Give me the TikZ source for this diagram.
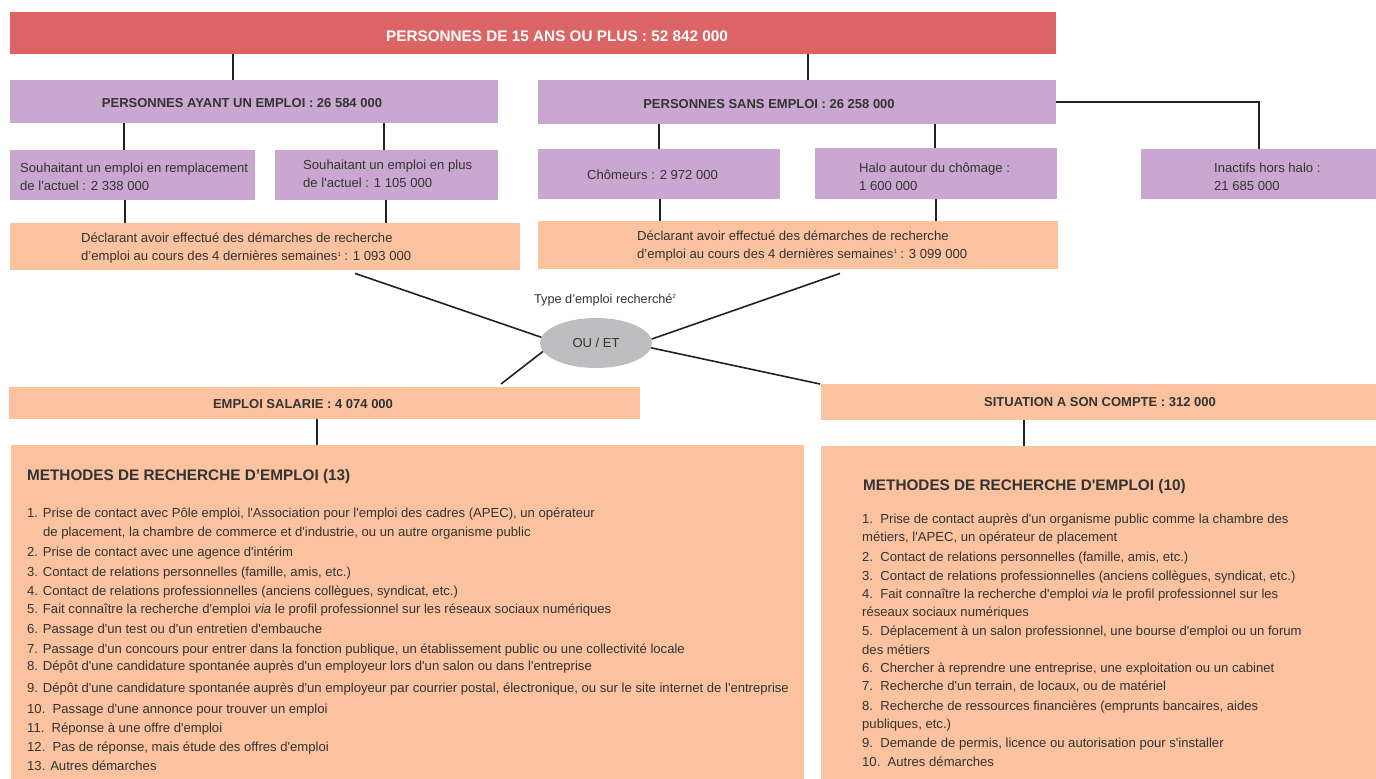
\documentclass[tikz,border=0pt]{standalone}
\usepackage{fontspec}
\setmainfont{Liberation Sans}[Ligatures=TeXOff]
\usetikzlibrary{shapes.geometric,calc}
\definecolor{cred}{HTML}{DC6464}
\definecolor{cpur}{HTML}{CAA7D0}
\definecolor{corg}{HTML}{FBC2A0}
\definecolor{cgry}{HTML}{BEBEC0}
\definecolor{ctxt}{HTML}{333333}
\definecolor{cline}{HTML}{222222}
\newcommand\supnum[1]{\raisebox{4.5pt}{\fontsize{6}{6}\selectfont #1}}
\begin{document}
\begin{tikzpicture}[x=1pt,y=-1pt,
  panel/.style={rectangle,inner sep=0,anchor=north west,draw=none},
  txt/.style={inner sep=0,text=ctxt,font=\fontsize{13.1}{18}\selectfont,align=left},
  boldtxt/.style={inner sep=0,text=ctxt,font=\fontsize{13}{16}\selectfont\bfseries},
  headtxt/.style={inner sep=0,text=ctxt,font=\fontsize{15.3}{18}\selectfont\bfseries},
  conn/.style={draw=cline,line width=1.6pt},
  item/.style={inner sep=0,text=ctxt,font=\fontsize{13.1}{16}\selectfont,anchor=west,text height=9.5pt,text depth=2.5pt}]
\useasboundingbox (0,0) rectangle (1376,779);
\fill[white] (0,0) rectangle (1376,779);

% boxes
\node[panel,fill=cred,minimum width=1046,minimum height=42] (red) at (10,12) {};
\node[panel,fill=cpur,minimum width=488,minimum height=43] (A) at (10,80) {};
\node[panel,fill=cpur,minimum width=518,minimum height=44] (B) at (538,80) {};
\node[panel,fill=cpur,minimum width=245,minimum height=50] (C1) at (10,150) {};
\node[panel,fill=cpur,minimum width=223,minimum height=50] (C2) at (275,150) {};
\node[panel,fill=corg,minimum width=510,minimum height=47] (D1) at (10,223) {};
\node[panel,fill=cpur,minimum width=242,minimum height=50] (Cho) at (538,149) {};
\node[panel,fill=cpur,minimum width=242,minimum height=51] (Halo) at (815,148) {};
\node[panel,fill=cpur,minimum width=235,minimum height=50] (Inact) at (1141,149) {};
\node[panel,fill=corg,minimum width=520,minimum height=48] (D2) at (538,221) {};
\node[panel,fill=corg,minimum width=631,minimum height=32] (Esal) at (9,387) {};
\node[panel,fill=corg,minimum width=555,minimum height=36] (Sit) at (821,384) {};
\node[panel,fill=corg,minimum width=793,minimum height=334] (LM) at (11,445) {};
\node[panel,fill=corg,minimum width=555,minimum height=333] (RM) at (821,446) {};
\node[ellipse,fill=cgry,minimum width=112,minimum height=50,inner sep=0,text=ctxt,font=\fontsize{13}{16}\selectfont] (ell) at (596,343) {OU / ET};

% box texts
\node[headtxt,text=white] (redt) at (557,36) {PERSONNES DE 15 ANS OU PLUS : 52 842 000};
\node[boldtxt] (At) at (242,103) {PERSONNES AYANT UN EMPLOI : 26 584 000};
\node[boldtxt] (Bt) at (769,104) {PERSONNES SANS EMPLOI : 26 258 000};
\node[txt,anchor=west] (C1t) at (20,176.5) {Souhaitant un emploi en remplacement\\de l'actuel : 2 338 000};
\node[txt,anchor=west] (C2t) at (303,173.5) {Souhaitant un emploi en plus\\de l'actuel : 1 105 000};
\node[txt,anchor=west] (D1t) at (81,248.5) {Déclarant avoir effectué des démarches de recherche\\d’emploi au cours des 4 dernières semaines\supnum{1} : 1 093 000};
\node[txt,anchor=west] (Chot) at (587,175) {Chômeurs : 2 972 000};
\node[txt,anchor=west] (Halot) at (859,177) {Halo autour du chômage :\\1 600 000};
\node[txt,anchor=west] (Inactt) at (1214,177) {Inactifs hors halo :\\21 685 000};
\node[txt,anchor=west] (D2t) at (637,246) {Déclarant avoir effectué des démarches de recherche\\d’emploi au cours des 4 dernières semaines\supnum{1} : 3 099 000};
\node[txt,font=\fontsize{12.7}{15}\selectfont] (typet) at (605,300) {Type d’emploi recherché\supnum{2}};
\node[boldtxt] (Esalt) at (303,404) {EMPLOI SALARIE : 4 074 000};
\node[boldtxt] (Sitt) at (1100,402) {SITUATION A SON COMPTE : 312 000};
\node[headtxt,anchor=west] (LMh) at (27,477) {METHODES DE RECHERCHE D’EMPLOI (13)};
\node[headtxt,anchor=west] (RMh) at (863,487) {METHODES DE RECHERCHE D'EMPLOI (10)};

% left list
\foreach \xx/\yy/\txt [count=\i] in {
 27/514/{1. Prise de contact avec Pôle emploi, l'Association pour l'emploi des cadres (APEC), un opérateur},
 43/533/{de placement, la chambre de commerce et d'industrie, ou un autre organisme public},
 27/553/{2. Prise de contact avec une agence d'intérim},
 27/573/{3. Contact de relations personnelles (famille, amis, etc.)},
 27/592/{4. Contact de relations professionnelles (anciens collègues, syndicat, etc.)},
 27/610/{5. Fait connaître la recherche d'emploi \textit{via} le profil professionnel sur les réseaux sociaux numériques},
 27/630/{6. Passage d'un test ou d'un entretien d'embauche},
 27/650/{7. Passage d'un concours pour entrer dans la fonction publique, un établissement public ou une collectivité locale},
 27/667/{8. Dépôt d'une candidature spontanée auprès d'un employeur lors d'un salon ou dans l'entreprise},
 27/689/{9. Dépôt d'une candidature spontanée auprès d'un employeur par courrier postal, électronique, ou sur le site internet de l'entreprise},
 27/710/{10.\ \ Passage d'une annonce pour trouver un emploi},
 27/729/{11.\ \ Réponse à une offre d'emploi},
 27/748/{12.\ \ Pas de réponse, mais étude des offres d'emploi},
 27/767/{13. Autres démarches}}
 \node[item] (lm\i) at (\xx,\yy) {\txt};

% right list
\foreach \yy/\txt [count=\i] in {
 520/{1.\ \ Prise de contact auprès d'un organisme public comme la chambre des},
 538/{métiers, l'APEC, un opérateur de placement},
 558/{2.\ \ Contact de relations personnelles (famille, amis, etc.)},
 577/{3.\ \ Contact de relations professionnelles (anciens collègues, syndicat, etc.)},
 595/{4.\ \ Fait connaître la recherche d'emploi \textit{via} le profil professionnel sur les},
 613/{réseaux sociaux numériques},
 632/{5.\ \ Déplacement à un salon professionnel, une bourse d'emploi ou un forum},
 651/{des métiers},
 669/{6.\ \ Chercher à reprendre une entreprise, une exploitation ou un cabinet},
 687/{7.\ \ Recherche d'un terrain, de locaux, ou de matériel},
 707/{8.\ \ Recherche de ressources financières (emprunts bancaires, aides},
 725/{publiques, etc.)},
 744/{9.\ \ Demande de permis, licence ou autorisation pour s'installer},
 763/{10.\ \ Autres démarches}}
 \node[item] (rm\i) at (862,\yy) {\txt};

% connectors
\draw[conn] ([xshift=223pt]red.south west) -- ([xshift=223pt]A.north west);
\draw[conn] ([xshift=798pt]red.south west) -- ([xshift=270pt]B.north west);
\draw[conn] ([xshift=114pt]A.south west) -- ([xshift=114pt]C1.north west);
\draw[conn] ([xshift=374pt]A.south west) -- ([xshift=109pt]C2.north west);
\draw[conn] ([xshift=115pt]C1.south west) -- ([xshift=115pt]D1.north west);
\draw[conn] ([xshift=111pt]C2.south west) -- ([xshift=376pt]D1.north west);
\draw[conn] ([xshift=121pt]B.south west) -- ([xshift=121pt]Cho.north west);
\draw[conn] ([xshift=397pt]B.south west) -- ([xshift=120pt]Halo.north west);
\draw[conn] ([xshift=122pt]Cho.south west) -- ([xshift=122pt]D2.north west);
\draw[conn] ([xshift=121pt]Halo.south west) -- ([xshift=398pt]D2.north west);
\draw[conn] (B.east) -| (Inact.north);
\draw[conn] ([shift={(345,3)}]D1.south west) -- (ell.174);
\draw[conn] ([shift={(302,4)}]D2.south west) -- (ell.4);
\draw[conn] (ell.189) -- ([shift={(492,-3)}]Esal.north west);
\draw[conn] (ell.355) -- ([shift={(-1,0)}]Sit.north west);
\draw[conn] ([xshift=308pt]Esal.south west) -- ([xshift=306pt]LM.north west);
\draw[conn] ([xshift=203pt]Sit.south west) -- ([xshift=203pt]RM.north west);
\end{tikzpicture}
\end{document}
